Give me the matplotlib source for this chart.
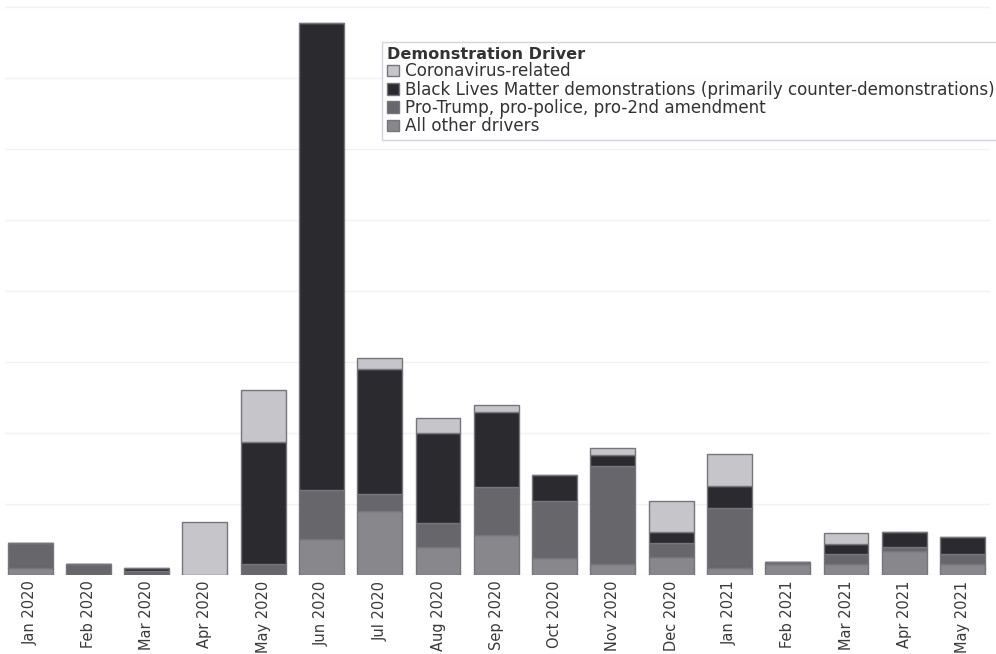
# Demostraciones por mes y por motivo (barras apiladas)
import matplotlib.pyplot as plt
import numpy as np
from matplotlib.patches import Patch

months = ['Jan 2020', 'Feb 2020', 'Mar 2020', 'Apr 2020', 'May 2020', 'Jun 2020',
          'Jul 2020', 'Aug 2020', 'Sep 2020', 'Oct 2020', 'Nov 2020', 'Dec 2020',
          'Jan 2021', 'Feb 2021', 'Mar 2021', 'Apr 2021', 'May 2021']

# valores (de abajo hacia arriba)
other = [10, 0, 0, 0, 0, 51, 90, 39, 56, 24, 15, 25, 10, 15, 15, 34, 15]
pro_trump = [35, 15, 6, 0, 15, 69, 24, 34, 68, 80, 139, 20, 85, 4, 14, 6, 14]
blm = [0, 0, 4, 0, 173, 658, 176, 127, 106, 37, 15, 15, 30, 0, 15, 21, 25]
corona = [0, 0, 0, 75, 72, 0, 15, 21, 10, 0, 10, 44, 46, 0, 15, 0, 0]

labels = ['Coronavirus-related',
          'Black Lives Matter demonstrations (primarily counter-demonstrations)',
          'Pro-Trump, pro-police, pro-2nd amendment',
          'All other drivers']
colors = ['#c6c5ca', '#2b2a2f', '#67666b', '#88878c']

fig = plt.figure(figsize=(9.96, 6.54), dpi=100)
ax = fig.add_axes([5 / 996, 79 / 654, 985 / 996, 575 / 654])

x = np.arange(len(months))
bottom = np.zeros(len(months))
series = [other, pro_trump, blm, corona]
cols = [colors[3], colors[2], colors[1], colors[0]]
for vals, c in zip(series, cols):
    ax.bar(x, vals, width=0.77, bottom=bottom, color=c,
           edgecolor='#76757c', linewidth=1, zorder=3)
    bottom += np.array(vals)

ax.set_xlim(-0.43, 16.47)
ax.set_ylim(0, 810)
ax.set_yticks(np.arange(0, 801, 100))
ax.set_yticklabels([])
ax.grid(axis='y', color='#f1f1f8', linewidth=1, zorder=0)
for s in ax.spines.values():
    s.set_visible(False)
ax.tick_params(axis='both', length=0)
ax.set_xticks(x)
ax.set_xticklabels(months, rotation=90, fontsize=10.5, color='#3a3a3a')
ax.tick_params(axis='x', pad=4)

handles = [Patch(facecolor=c, edgecolor='#76757c', linewidth=1) for c in colors]
leg = fig.legend(handles, labels, title='Demonstration Driver',
                 loc='upper left', bbox_to_anchor=(382 / 996, 1 - 42 / 654),
                 fontsize=12.1, title_fontsize=11.6, alignment='left',
                 frameon=True, fancybox=False, handlelength=0.7, handleheight=0.7,
                 handletextpad=0.35, labelspacing=0.02, borderpad=0.3,
                 borderaxespad=0)
leg.get_title().set_fontweight('bold')
leg.get_title().set_color('#333333')
for t in leg.get_texts():
    t.set_color('#333333')
leg.get_frame().set_edgecolor('#c9c9d8')
leg.get_frame().set_linewidth(1)

plt.savefig('out.png', dpi=100)
